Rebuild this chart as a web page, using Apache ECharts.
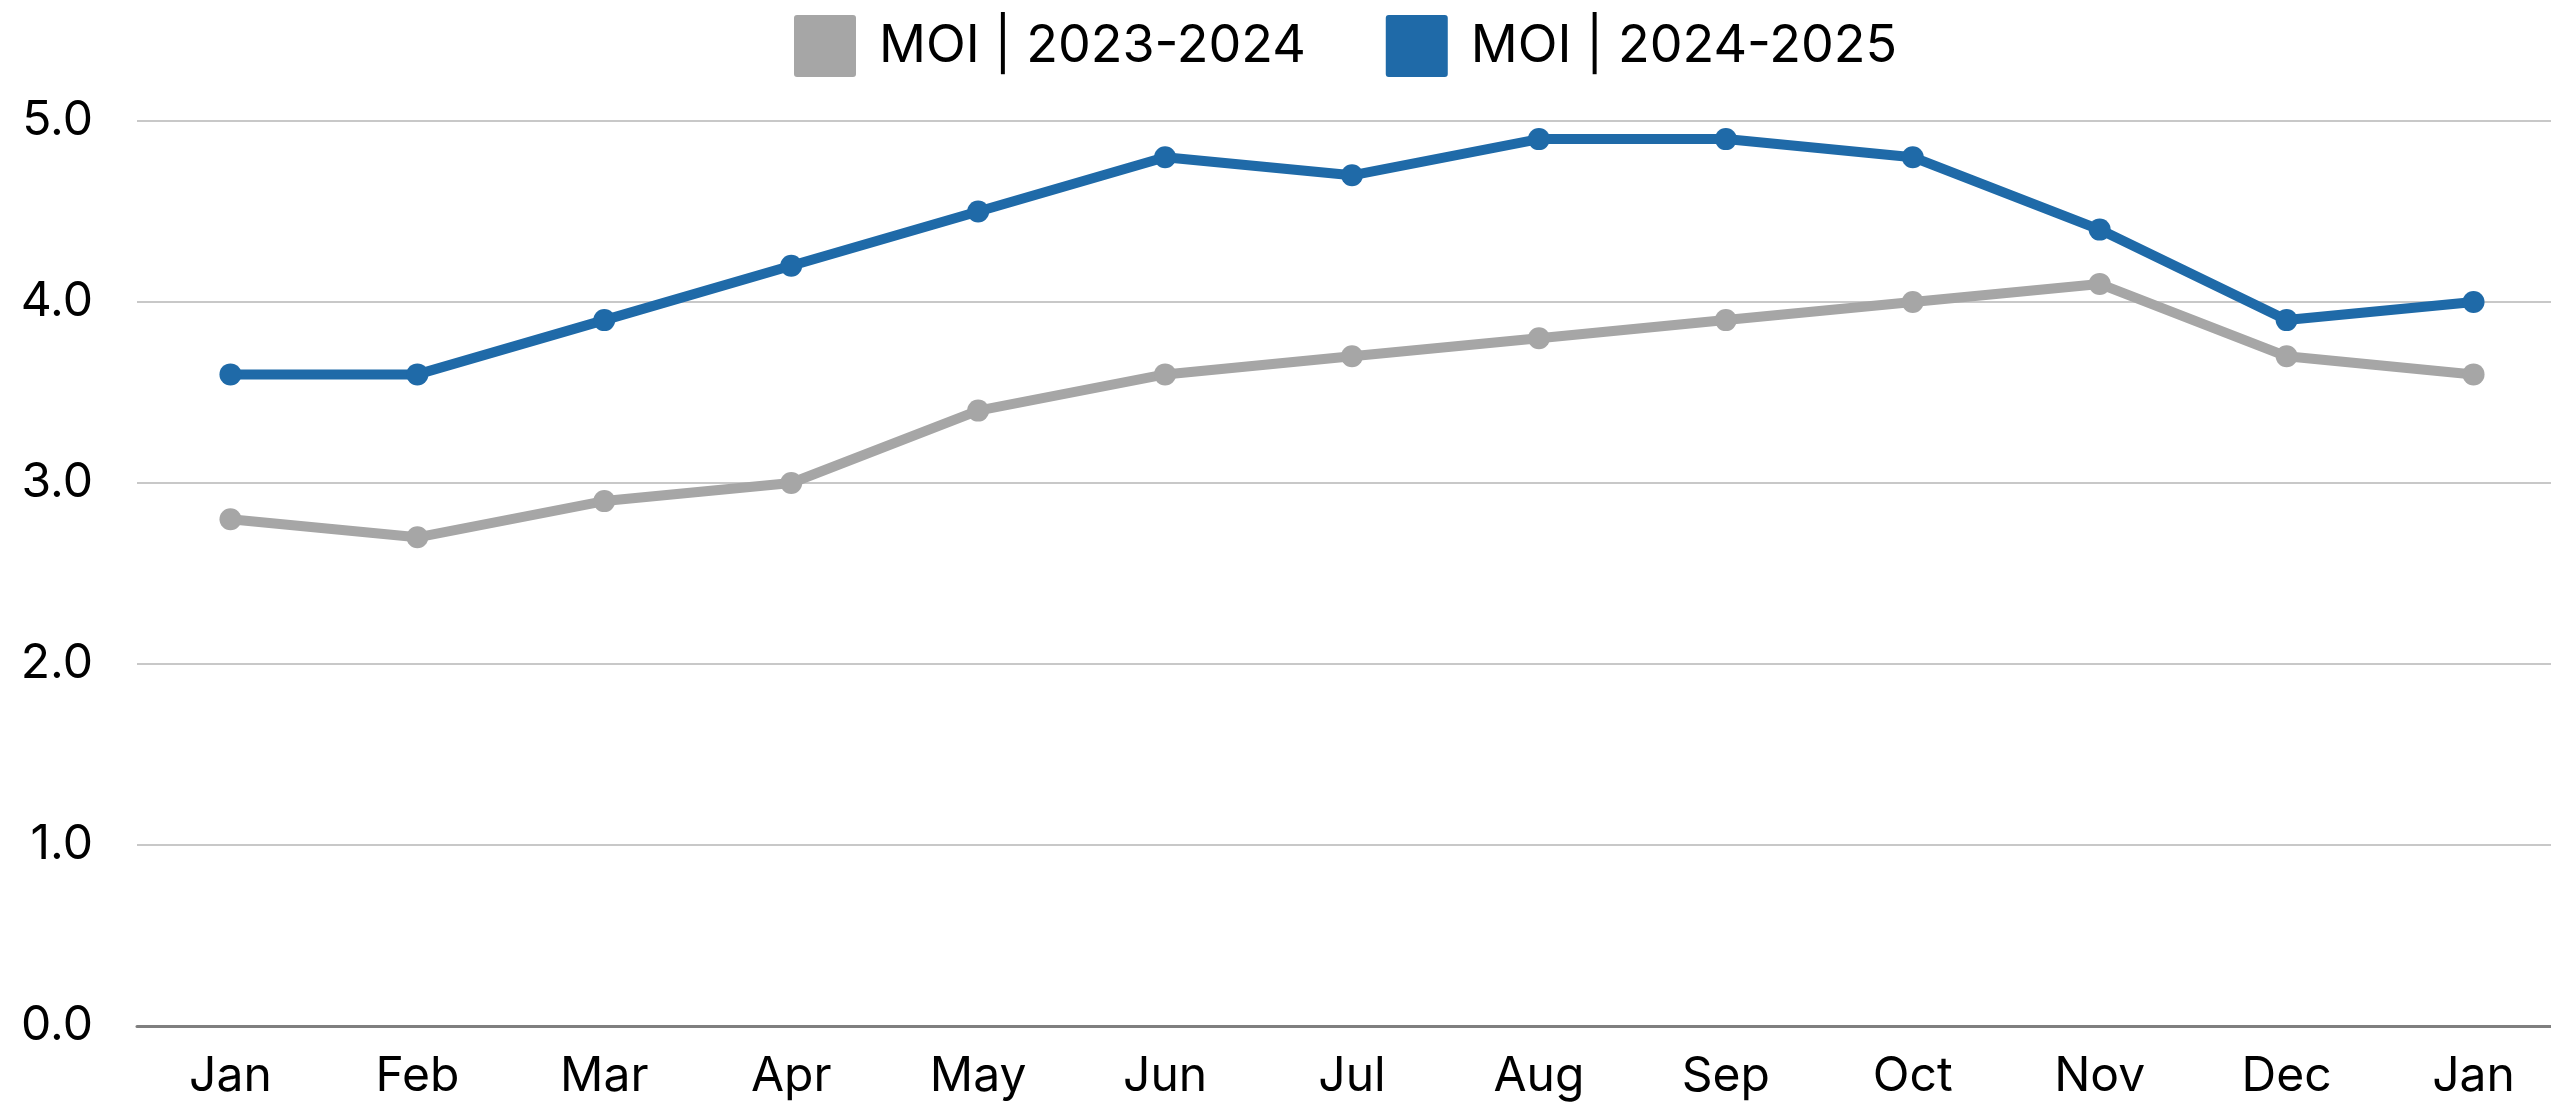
<!DOCTYPE html>
<html>
<head>
<meta charset="utf-8">
<script src="https://cdn.jsdelivr.net/npm/echarts@6/dist/echarts.min.js"></script>
<style>
  html, body { margin: 0; padding: 0; background: #fff; overflow: hidden; }
  /* the plot runs a little past the right edge of the window, like the original */
  #chart { width: 2567px; height: 1104px; }
</style>
</head>
<body>
<div id="chart"></div>
<script>
// months (13 points, Jan to Jan)
var months = ['Jan', 'Feb', 'Mar', 'Apr', 'May', 'Jun', 'Jul', 'Aug', 'Sep', 'Oct', 'Nov', 'Dec', 'Jan'];
var seriesNames = ['MOI | 2023-2024', 'MOI | 2024-2025'];
var moi2324 = [2.8, 2.7, 2.9, 3.0, 3.4, 3.6, 3.7, 3.8, 3.9, 4.0, 4.1, 3.7, 3.6];
var moi2425 = [3.6, 3.6, 3.9, 4.2, 4.5, 4.8, 4.7, 4.9, 4.9, 4.8, 4.4, 3.9, 4.0];

var fontName = 'Inter';
// square with slightly rounded corners for the legend
var squareIcon = 'path://M3,0 H59 Q62,0 62,3 V59 Q62,62 59,62 H3 Q0,62 0,59 V3 Q0,0 3,0 Z';

var chart = echarts.init(document.getElementById('chart'));
var option = {
  backgroundColor: '#ffffff',
  animation: false,
  legend: {
    left: 789,
    top: 10,
    itemWidth: 62,
    itemHeight: 62,
    itemGap: 80,
    icon: squareIcon,
    textStyle: { fontFamily: fontName, fontSize: 52, color: '#000', padding: [0, 0, 0, 18] },
    data: seriesNames
  },
  grid: {
    left: 137,
    right: 0,
    top: 121,
    bottom: 78
  },
  xAxis: {
    type: 'category',
    data: months,
    boundaryGap: true,
    axisLine: { lineStyle: { color: '#7f7f7f', width: 3 } },
    axisTick: { show: false },
    axisLabel: { fontFamily: fontName, fontSize: 48, color: '#000', margin: 27 }
  },
  yAxis: {
    type: 'value',
    min: 0,
    max: 5,
    interval: 1,
    axisLine: { show: false },
    axisTick: { show: false },
    splitLine: { lineStyle: { color: '#c8c8c8', width: 2 } },
    axisLabel: {
      fontFamily: fontName, fontSize: 48, color: '#000', margin: 44,
      formatter: function (v) { return v.toFixed(1); }
    }
  },
  series: [
    {
      name: seriesNames[0],
      type: 'line',
      data: moi2324,
      color: '#a6a6a6',
      symbol: 'circle',
      symbolSize: 22,
      lineStyle: { width: 10 }
    },
    {
      name: seriesNames[1],
      type: 'line',
      data: moi2425,
      color: '#1f6aa8',
      symbol: 'circle',
      symbolSize: 22,
      lineStyle: { width: 10 }
    }
  ]
};
chart.setOption(option);
</script>
</body>
</html>
